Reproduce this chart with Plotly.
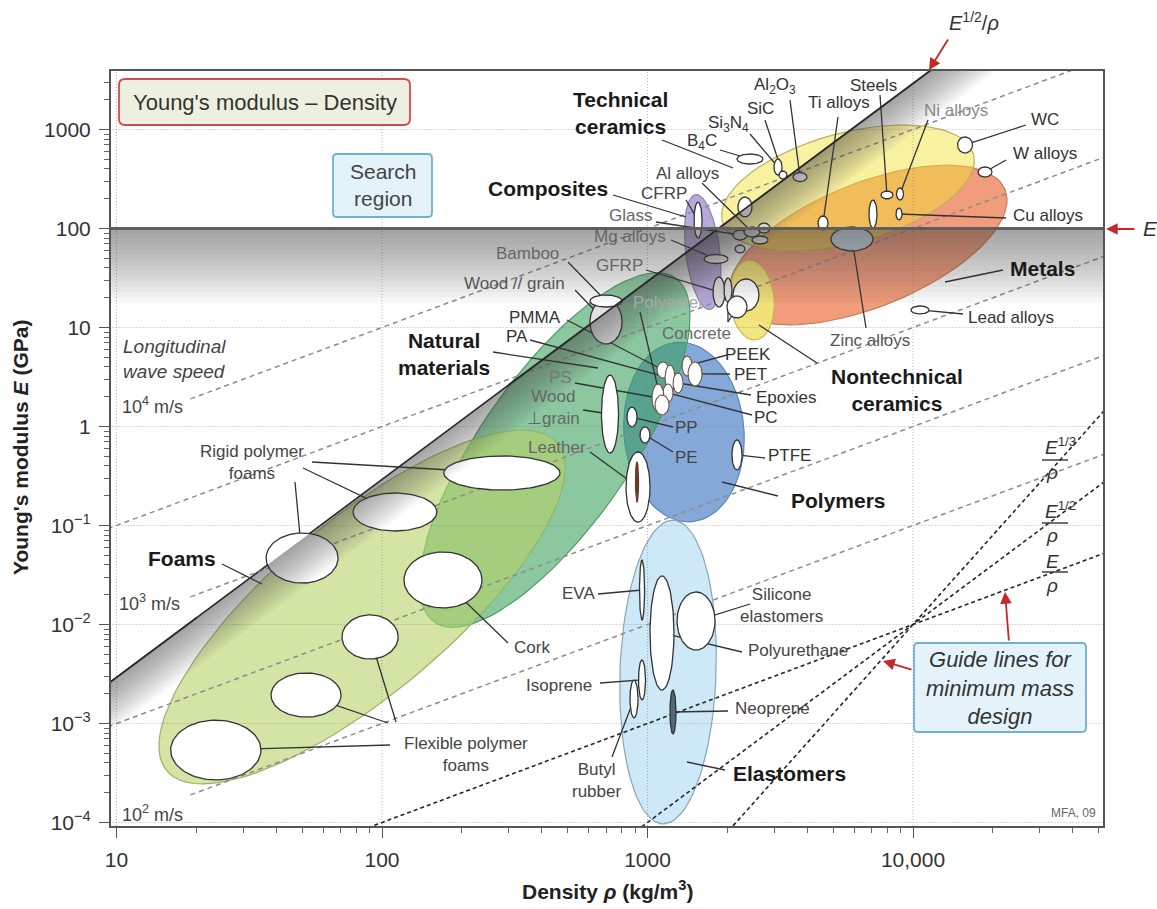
import numpy as np
import plotly.graph_objects as go

# ============================ DATA ============================
# Material property bubbles: density range (kg/m^3) and Young's modulus range (GPa)
mat_name = ["Flexible foam A", "Flexible foam B", "Flexible foam C",
            "Rigid foam A", "Rigid foam B", "Rigid foam C", "Cork",
            "Leather", "Leather grain", "Wood perp", "Wood par", "Bamboo",
            "PP", "PE", "PTFE", "PMMA", "PA", "PEEK", "PET", "Epoxies", "PC", "PS", "Polyester",
            "GFRP", "GFRP 2", "Concrete", "Concrete 2", "CFRP", "Mg alloys",
            "Glass", "Al alloys", "Al alloys 2", "Al alloys 3", "Al alloys 4", "Glass ceramic",
            "B4C", "Si3N4", "SiC", "Al2O3", "Ti alloys", "Zinc alloys", "Cast irons", "Steels",
            "Ni alloys", "Cu alloys", "WC", "W alloys", "Lead alloys",
            "EVA", "Polyurethane", "Silicone", "Isoprene", "Butyl rubber", "Neoprene"]
mat_rho_lo = [16.0, 38.2, 70.7, 36.6, 77.8, 171, 121,
              830, 901, 671, 607, 607,
              837, 937, 2080, 1086, 1164, 1349, 1421, 1248, 1144, 1040, 1067,
              1765, 1941, 2099, 1992, 1497, 1633,
              2099, 2310, 2608, 2475, 2136, 2191,
              2173, 2995, 3128, 3532, 4388, 4911, 6826, 7576,
              8667, 8630, 14716, 17570, 9829,
              933, 1022, 1292, 925, 859, 1215]
mat_rho_hi = [35.0, 70.1, 115, 68.3, 161, 468, 238,
              1022, 925, 778, 802, 802,
              913, 1022, 2270, 1205, 1269, 1471, 1605, 1361, 1247, 1154, 1205,
              1958, 2081, 2630, 2370, 1605, 2010,
              2370, 2653, 2893, 2843, 2329, 2475,
              2724, 3211, 3354, 3989, 4784, 7069, 7318, 8405,
              9209, 9090, 16751, 19840, 11490,
              975, 1258, 1796, 983, 921, 1280]
mat_E_lo = [2.69e-4, 1.16e-3, 4.48e-3, 0.0262, 0.088, 0.228, 0.0147,
            0.108, 0.173, 0.54, 6.81, 16.1,
            0.99, 0.68, 0.364, 3.09, 2.28, 3.24, 2.57, 2.18, 1.77, 1.40, 1.31,
            16.1, 18.1, 14.7, 12.5, 80.2, 44.3,
            76.5, 82.1, 90.0, 69.7, 56.6, 131,
            448, 347, 316, 298, 96.6, 59.3, 101, 199,
            194, 122, 579, 331, 13.7,
            0.0111, 2.18e-3, 5.53e-3, 1.73e-3, 1.14e-3, 7.83e-4]
mat_E_hi = [1.08e-3, 3.24e-3, 0.0125, 0.084, 0.213, 0.504, 0.054,
            0.553, 0.438, 3.31, 19.0, 21.3,
            1.57, 0.99, 0.731, 4.48, 4.18, 5.15, 4.48, 3.47, 2.69, 2.69, 2.08,
            32.4, 31.6, 30.9, 20.8, 185, 54.6,
            96.6, 103.5, 113.6, 84.0, 68.1, 208,
            566, 504, 381, 368, 134, 103.5, 194, 239,
            257, 161, 840, 418, 16.5,
            0.0448, 0.0309, 0.0213, 4.38e-3, 2.75e-3, 2.18e-3]

# Family envelopes: centre (density, modulus), half-axes (decades of density), tilt (deg)
fam_name = ["Metals", "Technical ceramics", "Nontechnical ceramics", "Composites",
            "Polymers", "Elastomers", "Natural materials", "Foams"]
fam_rho = [6768, 5690, 2475, 1615, 1372, 1195, 448, 84.1]
fam_E = [68.1, 256.6, 18.96, 57.9, 0.880, 3.31e-3, 0.579, 0.01502]
fam_major = [0.557, 0.4896, 0.151, 0.218, 0.339, 0.5725, 0.791, 0.960]
fam_minor = [0.2335, 0.2072, 0.083, 0.064, 0.226, 0.181, 0.282, 0.328]
fam_tilt = [22, 15, 95, 97, 95, 88, 55, 40]

# Longitudinal wave speed lines (m/s)
wave_speed = [10000, 3162, 1000, 316, 100]
# Minimum-mass guide lines: E^(1/n)/rho = value
guide_n = [1, 2, 3]
guide_value = [1e-6, 1e-5, 2.154e-5]
# Selection criteria
E_limit = 100.0            # GPa
index_limit = 0.0054       # E^(1/2)/rho

x_tick_vals = [10, 100, 1000, 10000]
x_tick_text = ["10", "100", "1000", "10,000"]
y_tick_vals = [1e-4, 1e-3, 1e-2, 1e-1, 1, 10, 100, 1000]
y_tick_text = ["10<sup>−4</sup>", "10<sup>−3</sup>", "10<sup>−2</sup>", "10<sup>−1</sup>",
               "1", "10", "100", "1000"]
minor_digits = [2, 3, 4, 5, 6, 7, 8, 9]

# ============================ LAYOUT GEOMETRY ============================
FIG_W, FIG_H = 1157, 909
L, T, PW, PH = 111, 71, 992, 755
X0, X1 = 0.9793, 4.7156
Y0, Y1 = -4.0354, 3.5909
K = (PH / (Y1 - Y0)) / (PW / (X1 - X0))
FONT = "Liberation Sans, Arial, Helvetica, sans-serif"


def px2log(px, py):
    return X0 + (px - L) / PW * (X1 - X0), Y1 - (py - T) / PH * (Y1 - Y0)


def px2paper(px, py):
    return (px - L) / PW, (T + PH - py) / PH


tt = np.linspace(0, 2 * np.pi, 90)
mat_idx = {n: i for i, n in enumerate(mat_name)}


def mat_center(name):
    i = mat_idx[name]
    return (np.sqrt(mat_rho_lo[i] * mat_rho_hi[i]), np.sqrt(mat_E_lo[i] * mat_E_hi[i]))


fig = go.Figure()

# ---------------- family envelopes ----------------
fam_style = {
    "Metals": ("rgba(241,156,122,1)", "#c97a5a"),
    "Technical ceramics": ("rgba(240,226,57,0.48)", "#bdb060"),
    "Nontechnical ceramics": ("rgba(242,228,120,0.95)", "#c8b850"),
    "Composites": ("rgba(175,160,212,0.9)", "#8f80b8"),
    "Polymers": ("rgba(125,163,214,0.95)", "#5f86bd"),
    "Elastomers": ("rgba(205,232,246,1)", "#8aa6b6"),
    "Natural materials": ("rgba(55,160,90,0.58)", "#4f9a68"),
    "Foams": ("rgba(182,210,103,0.6)", "#98b46a"),
}
c_diag = 2 * np.log10(index_limit)
for i, n in enumerate(fam_name):
    if n == "Foams":
        # selection line passes beneath the foam envelope
        xs = np.array([3, 3e4])
        fig.add_trace(go.Scatter(x=xs, y=(index_limit * xs) ** 2, mode="lines",
                                 line=dict(color="#2a2a2a", width=1.6), hoverinfo="skip", showlegend=False))
    th = np.radians(fam_tilt[i])
    a, b = fam_major[i], fam_minor[i]
    X = a * np.cos(tt) * np.cos(th) - b * np.sin(tt) * np.sin(th)
    Y = a * np.cos(tt) * np.sin(th) + b * np.sin(tt) * np.cos(th)
    u = np.log10(fam_rho[i]) + X
    w = np.log10(fam_E[i]) + Y / K
    fc, lc = fam_style[n]
    fig.add_trace(go.Scatter(x=10 ** u, y=10 ** w, mode="lines", fill="toself",
                             fillcolor=fc, line=dict(color=lc, width=1.2),
                             hoverinfo="skip", showlegend=False))

# ---------------- grid lines (drawn over envelopes) ----------------
gx, gy = [], []
for v in x_tick_vals:
    gx += [v, v, None]
    gy += [10 ** (Y0 - 1), 10 ** (Y1 + 1), None]
for v in y_tick_vals:
    gx += [10 ** (X0 - 1), 10 ** (X1 + 1), None]
    gy += [v, v, None]
fig.add_trace(go.Scatter(x=gx, y=gy, mode="lines",
                         line=dict(color="rgba(120,120,120,0.55)", width=1, dash="1px,2px"),
                         hoverinfo="skip", showlegend=False))

# ---------------- longitudinal wave speed lines ----------------
wave_start = [19, 8, 19, 8, 19]
for c, r0 in zip(wave_speed, wave_start):
    xs = np.array([r0, 1e5])
    fig.add_trace(go.Scatter(x=xs, y=c ** 2 * xs / 1e9, mode="lines",
                             line=dict(color="#8c8c8c", width=1.5, dash="5px,4px"),
                             hoverinfo="skip", showlegend=False))

# ---------------- minimum mass guide lines ----------------
for n, v in zip(guide_n, guide_value):
    xs = np.array([30, 1e5])
    fig.add_trace(go.Scatter(x=xs, y=(v * xs) ** n, mode="lines",
                             line=dict(color="#262626", width=1.6, dash="4px,3px"),
                             hoverinfo="skip", showlegend=False))

# ---------------- leader lines (label pixel anchor -> material / envelope) ----------------
leaders = [
    ((662, 140), (733, 168)), ((613, 195), (686, 217)), ((1003, 270), (945, 282)),
    ((493, 352), (598, 368)), ((778, 496), (722, 482)), ((817, 363), (759, 325)),
    ((222, 564), (262, 584)), ((725, 770), (687, 762)),
    ((790, 100), "Al2O3"), ((765, 120), "SiC"), ((750, 134), "Si3N4"), ((720, 150), "B4C"),
    ((702, 183), "Al alloys"), ((686, 200), "CFRP"), ((656, 222), "Glass"),
    ((671, 240), "Mg alloys"), ((646, 270), "GFRP"), ((568, 262), "Bamboo"),
    ((575, 290), "Wood par"), ((838, 117), "Ti alloys"), ((880, 95), "Steels"),
    ((928, 120), "Ni alloys"), ((1026, 125), "WC"), ((1006, 160), "W alloys"),
    ((1006, 218), "Cu alloys"), ((963, 314), "Lead alloys"), ((866, 328), "Zinc alloys"),
    ((640, 312), "Polyester"), ((728, 322), "GFRP 2"), ((728, 322), "Concrete 2"),
    ((727, 355), "PEEK"), ((730, 374), "PET"), ((751, 395), "Epoxies"), ((752, 415), "PC"),
    ((575, 383), "PS"), ((583, 410), "Wood perp"), ((590, 452), "Leather"),
    ((673, 427), "PP"), ((673, 452), "PE"), ((765, 458), "PTFE"),
    ((567, 320), "PMMA"), ((530, 340), "PA"),
    ((312, 462), "Rigid foam C"), ((303, 468), "Rigid foam B"), ((295, 482), "Rigid foam A"),
    ((508, 643), "Cork"),
    ((390, 745), "Flexible foam A"), ((388, 723), "Flexible foam B"), ((396, 722), "Flexible foam C"),
    ((598, 594), "EVA"), ((600, 683), "Isoprene"), ((612, 757), "Butyl rubber"),
    ((750, 604), "Silicone"), ((742, 652), "Polyurethane"), ((728, 711), "Neoprene"),
]
lx, ly = [], []
for (sx, sy), tgt in leaders:
    u0, w0 = px2log(sx, sy)
    if isinstance(tgt, str):
        xe, ye = mat_center(tgt)
    else:
        ue, we = px2log(*tgt)
        xe, ye = 10 ** ue, 10 ** we
    lx += [10 ** u0, xe, None]
    ly += [10 ** w0, ye, None]
fig.add_trace(go.Scatter(x=lx, y=ly, mode="lines", line=dict(color="#333333", width=1.3),
                         hoverinfo="skip", showlegend=False))

# ---------------- material bubbles ----------------
special_fill = {"Zinc alloys": "#c6d3e1", "Leather grain": "#6a3a2a", "Neoprene": "#55687a",
                "GFRP": "#dcdcdc", "GFRP 2": "#e4e4e4", "Wood par": "#e2e2e2"}
cluster = {"PMMA", "PA", "PEEK", "PET", "Epoxies", "PC", "PS", "Polyester"}
for i, n in enumerate(mat_name):
    lu0, lu1 = np.log10(mat_rho_lo[i]), np.log10(mat_rho_hi[i])
    lw0, lw1 = np.log10(mat_E_lo[i]), np.log10(mat_E_hi[i])
    u = (lu0 + lu1) / 2 + (lu1 - lu0) / 2 * np.cos(tt)
    w = (lw0 + lw1) / 2 + (lw1 - lw0) / 2 * np.sin(tt)
    lc = "#6b5646" if n in cluster else ("#6a3a2a" if n == "Leather grain" else "#333333")
    fig.add_trace(go.Scatter(x=10 ** u, y=10 ** w, mode="lines", fill="toself",
                             fillcolor=special_fill.get(n, "#ffffff"),
                             line=dict(color=lc, width=1.1 if n in cluster else 1.3),
                             hoverinfo="skip", showlegend=False))

# ---------------- grey search-boundary shading ----------------
NB = 14
for k in range(1, NB + 1):
    el = E_limit * 10 ** (-0.75 * k / NB)
    fig.add_trace(go.Scatter(x=[1, 1e6, 1e6, 1], y=[E_limit, E_limit, el, el], mode="lines",
                             fill="toself", fillcolor="rgba(60,60,60,0.045)",
                             line=dict(width=0), hoverinfo="skip", showlegend=False))
for k in range(1, NB + 1):
    s = 0.5 * k / NB
    ua, ub = 0.5, 5.0
    fig.add_trace(go.Scatter(
        x=[10 ** ua, 10 ** ub, 10 ** ub, 10 ** ua],
        y=[10 ** (2 * ua + c_diag), 10 ** (2 * ub + c_diag), 10 ** (2 * ub + c_diag - s), 10 ** (2 * ua + c_diag - s)],
        mode="lines", fill="toself", fillcolor="rgba(60,60,60,0.045)",
        line=dict(width=0), hoverinfo="skip", showlegend=False))

# ---------------- selection lines (visible parts) ----------------
xs = np.array([300, 3e4])
fig.add_trace(go.Scatter(x=xs, y=(index_limit * xs) ** 2, mode="lines",
                         line=dict(color="#2a2a2a", width=1.6), hoverinfo="skip", showlegend=False))
xs = np.array([3, 20])
fig.add_trace(go.Scatter(x=xs, y=(index_limit * xs) ** 2, mode="lines",
                         line=dict(color="#2a2a2a", width=1.6), hoverinfo="skip", showlegend=False))
fig.add_trace(go.Scatter(x=[1, 1e6], y=[E_limit, E_limit], mode="lines",
                         line=dict(color="#5e5e5e", width=3), hoverinfo="skip", showlegend=False))

# ============================ TEXT ============================
ann = []


def label(text, px, py, size=17, color="#333333", xanchor="center", angle=0):
    xp, yp = px2paper(px, py)
    ann.append(dict(x=xp, y=yp, xref="paper", yref="paper", text=text, showarrow=False,
                    xanchor=xanchor, yanchor="middle", align="center" if xanchor == "center" else "left",
                    textangle=angle, font=dict(family=FONT, size=size, color=color)))


B = 21
label("<b>Technical</b><br><b>ceramics</b>", 620, 113, B, "#1a1a1a")
label("<b>Composites</b>", 548, 188, B, "#1a1a1a")
label("<b>Metals</b>", 1042, 268, B, "#1a1a1a")
label("<b>Natural</b><br><b>materials</b>", 444, 354, B, "#1a1a1a")
label("<b>Polymers</b>", 838, 500, B, "#1a1a1a")
label("<b>Nontechnical</b><br><b>ceramics</b>", 897, 390, B, "#1a1a1a")
label("<b>Foams</b>", 182, 558, B, "#1a1a1a")
label("<b>Elastomers</b>", 789, 773, B, "#1a1a1a")

label("Al<sub>2</sub>O<sub>3</sub>", 775, 86)
label("SiC", 760, 108)
label("Si<sub>3</sub>N<sub>4</sub>", 728, 124)
label("B<sub>4</sub>C", 702, 142)
label("Ti alloys", 839, 103)
label("Steels", 873, 85)
label("Ni alloys", 956, 110, color="#8a8a8a")
label("WC", 1045, 120)
label("W alloys", 1045, 153)
label("Cu alloys", 1048, 215)
label("Lead alloys", 1011, 317)
label("Zinc alloys", 870, 340, color="#555555")
label("Al alloys", 687, 173, color="#444444")
label("CFRP", 664, 193, color="#444444")
label("Glass", 630, 215, color="#666666")
label("Mg alloys", 630, 237, color="#666666")
label("GFRP", 619, 265, color="#666666")
label("Bamboo", 527, 253, color="#666666")
label("Wood // grain", 514, 283, color="#555555")
label("Polyester", 668, 302, color="#a8a8a8")
label("Concrete", 696, 333, color="#6a6a6a")
label("PEEK", 748, 354)
label("PET", 750, 374)
label("Epoxies", 786, 397)
label("PC", 766, 417)
label("PP", 686, 427, color="#444444")
label("PE", 686, 457, color="#444444")
label("PTFE", 789, 455)
label("PMMA", 535, 317)
label("PA", 517, 337)
label("PS", 560, 378, color="#777777")
label("Wood<br>⊥grain", 553, 407, color="#666666")
label("Leather", 557, 447, color="#666666")
label("Rigid polymer<br>foams", 252, 462, color="#444444")
label("Cork", 532, 647, color="#444444")
label("Flexible polymer<br>foams", 466, 754, color="#444444")
label("EVA", 578, 593, color="#444444")
label("Isoprene", 559, 685, color="#444444")
label("Butyl<br>rubber", 596, 780, color="#444444")
label("Silicone<br>elastomers", 781, 605, color="#444444")
label("Polyurethane", 798, 650, color="#444444")
label("Neoprene", 772, 708, color="#444444")

label("<i>Longitudinal</i><br><i>wave speed</i>", 121, 359, 19, "#444444", xanchor="left")
label("10<sup>4</sup> m/s", 120, 405, 18, "#444444", xanchor="left")
label("10<sup>3</sup> m/s", 117, 602, 18, "#444444", xanchor="left")
label("10<sup>2</sup> m/s", 120, 813, 18, "#444444", xanchor="left")
label("MFA, 09", 1073, 813, 12, "#666666")

label("Young's modulus – Density", 265, 102, 22, "#333333")
label("Search<br>region", 383, 185, 21, "#444444")
label("<i>Guide lines for</i><br><i>minimum mass</i><br><i>design</i>", 1000, 688, 22, "#333333")

label("<i>E</i><sup>1/2</sup>/<i>ρ</i>", 974, 22, 20, "#333333")
label("<i>E</i>", 1150, 229, 21, "#333333")
label("<i>E</i><sup>1/3</sup>", 1060, 446, 19, "#333333")
label("<i>ρ</i>", 1052, 472, 19, "#333333")
label("<i>E</i><sup>1/2</sup>", 1060, 510, 19, "#333333")
label("<i>ρ</i>", 1052, 535, 19, "#333333")
label("<i>E</i>", 1052, 561, 19, "#333333")
label("<i>ρ</i>", 1052, 585, 19, "#333333")

label("<b>Young's modulus <i>E</i> (GPa)</b>", 20, 448, 21, "#222222", angle=-90)
label("<b>Density <i>ρ</i> (kg/m<sup>3</sup>)</b>", 607, 890, 21, "#222222")

# red arrows
for (tx, ty), (sx, sy) in [((929, 70), (949, 38)), ((1106, 229), (1136, 229)),
                           ((1005, 592), (1009, 642)), ((883, 661), (913, 670))]:
    xp, yp = px2paper(tx, ty)
    ann.append(dict(x=xp, y=yp, xref="paper", yref="paper", text="", showarrow=True,
                    ax=sx - tx, ay=sy - ty, arrowhead=2, arrowsize=1.3, arrowwidth=1.8,
                    arrowcolor="#c62828", standoff=0))

# ============================ SHAPES ============================
shapes = []


def rrect(x0, y0, x1, y1, r, fill, line):
    def P(px, py):
        a, b = px2paper(px, py)
        return f"{a:.5f},{b:.5f}"
    path = (f"M {P(x0 + r, y0)} L {P(x1 - r, y0)} Q {P(x1, y0)} {P(x1, y0 + r)} "
            f"L {P(x1, y1 - r)} Q {P(x1, y1)} {P(x1 - r, y1)} L {P(x0 + r, y1)} "
            f"Q {P(x0, y1)} {P(x0, y1 - r)} L {P(x0, y0 + r)} Q {P(x0, y0)} {P(x0 + r, y0)} Z")
    shapes.append(dict(type="path", path=path, xref="paper", yref="paper",
                       fillcolor=fill, line=dict(color=line, width=1.8), layer="above"))


rrect(119, 79, 410, 125, 6, "#eef0df", "#d24a4a")
rrect(333, 154, 432, 217, 4, "#e4f3fa", "#6fb0d6")
rrect(914, 643, 1086, 732, 4, "#e4f3fa", "#6fb0d6")

for y in [460, 523, 572]:
    xa, ya = px2paper(1042, y)
    xb, _ = px2paper(1068, y)
    shapes.append(dict(type="line", x0=xa, x1=xb, y0=ya, y1=ya, xref="paper", yref="paper",
                       line=dict(color="#333333", width=1.4), layer="above"))

# ============================ LAYOUT ============================
x_minor = [d * 10 ** e for e in range(1, 5) for d in minor_digits]
y_minor = [d * 10.0 ** e for e in range(-4, 4) for d in minor_digits]
axis_common = dict(type="log", showgrid=False, zeroline=False, showline=True, mirror=True,
                   linecolor="#555555", linewidth=2, ticks="outside", ticklen=10, tickwidth=1.4,
                   tickcolor="#555555", tickfont=dict(family=FONT, size=21, color="#333333"))
fig.update_layout(
    width=FIG_W, height=FIG_H, margin=dict(l=L, r=FIG_W - L - PW, t=T, b=FIG_H - T - PH),
    paper_bgcolor="white", plot_bgcolor="white", showlegend=False,
    xaxis=dict(range=[X0, X1], tickvals=x_tick_vals, ticktext=x_tick_text, ticklabelstandoff=4,
               minor=dict(tickvals=x_minor, ticks="outside", ticklen=5, tickwidth=1,
                          tickcolor="#666666", showgrid=False), **axis_common),
    yaxis=dict(range=[Y0, Y1], tickvals=y_tick_vals, ticktext=y_tick_text, ticklabelstandoff=4,
               minor=dict(tickvals=y_minor, ticks="outside", ticklen=5, tickwidth=1,
                          tickcolor="#666666", showgrid=False), **axis_common),
    annotations=ann, shapes=shapes,
)

fig.write_html("out.html")
